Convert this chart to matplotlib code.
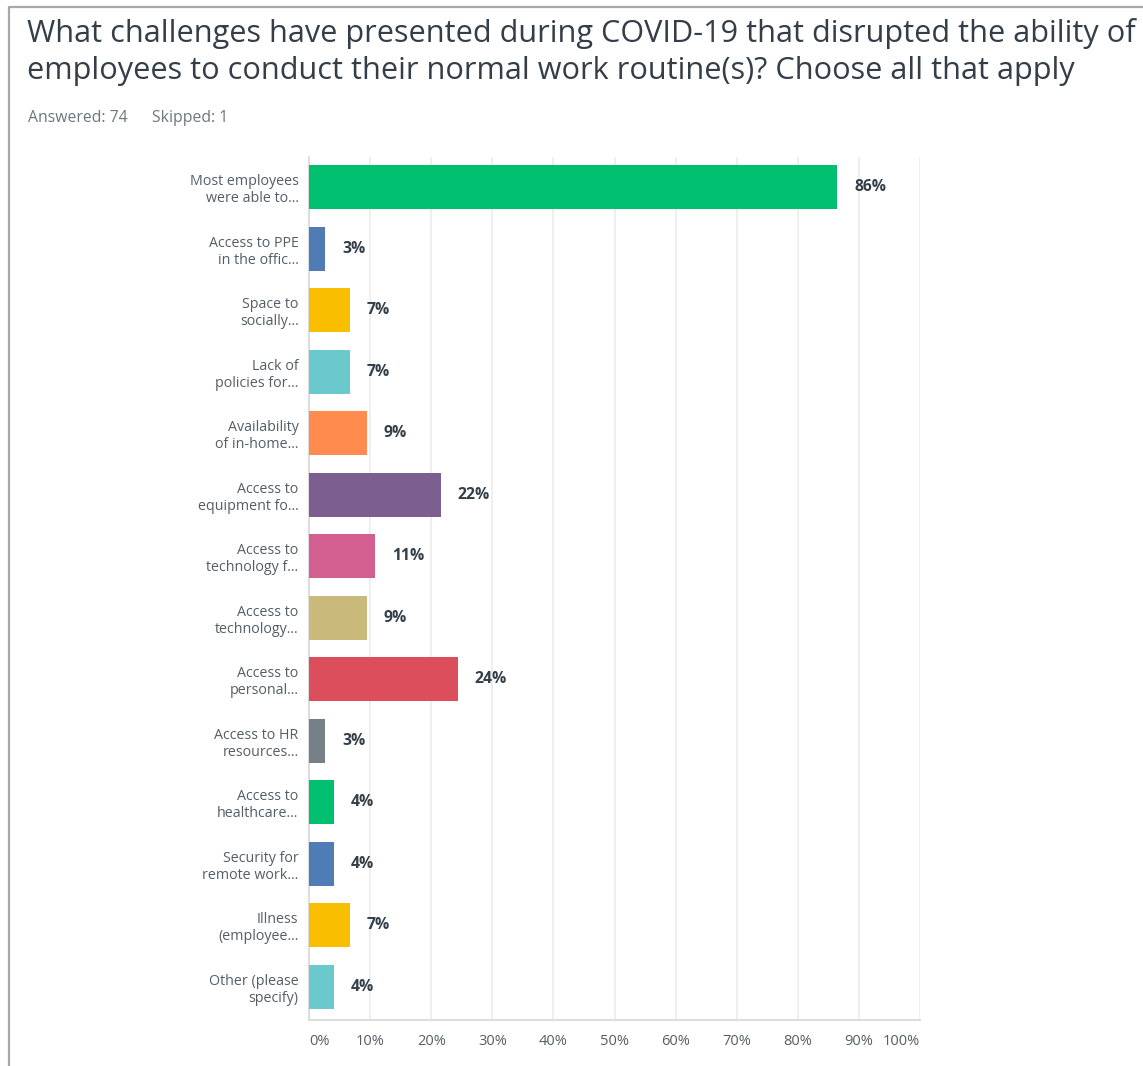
import matplotlib
matplotlib.use("Agg")
import matplotlib.pyplot as plt
from matplotlib.lines import Line2D

# Survey results (percent of respondents, 74 answered)
categories = [
    "Most employees\nwere able to...",
    "Access to PPE\nin the offic...",
    "Space to\nsocially...",
    "Lack of\npolicies for...",
    "Availability\nof in-home...",
    "Access to\nequipment fo...",
    "Access to\ntechnology f...",
    "Access to\ntechnology...",
    "Access to\npersonal...",
    "Access to HR\nresources...",
    "Access to\nhealthcare...",
    "Security for\nremote work...",
    "Illness\n(employee...",
    "Other (please\nspecify)",
]
percents = [86.49, 2.70, 6.76, 6.76, 9.46, 21.62, 10.81, 9.46, 24.32, 2.70, 4.05, 4.05, 6.76, 4.05]
colors = ["#00BF6F", "#507CB6", "#F9BE00", "#6BC8CD", "#FF8B4F", "#7D5E90", "#D25F90",
          "#C9B97A", "#DC4E5C", "#768087", "#00BF6F", "#507CB6", "#F9BE00", "#6BC8CD"]
tick_values = [0, 10, 20, 30, 40, 50, 60, 70, 80, 90, 100]
tick_labels = ["0%", "10%", "20%", "30%", "40%", "50%", "60%", "70%", "80%", "90%", "100%"]

title = ("What challenges have presented during COVID-19 that disrupted the ability of\n"
         "employees to conduct their normal work routine(s)? Choose all that apply")
subtitle_answered = "Answered: 74"
subtitle_skipped = "Skipped: 1"

plt.rcParams["font.family"] = ["Open Sans", "DejaVu Sans"]

W, H = 1143, 1066
fig = plt.figure(figsize=(W / 100, H / 100), dpi=100)
fig.patch.set_facecolor("white")

ax = fig.add_axes([309 / W, 1 - 1020 / H, (920 - 309) / W, (1020 - 157) / H])

y = list(range(len(categories)))
ax.barh(y, percents, height=0.715, color=colors, zorder=3)

for yi, p in zip(y, percents):
    ax.annotate(f"{round(p)}%", xy=(p, yi), xytext=(12, 0), textcoords="offset points",
                ha="left", va="center", fontsize=11.3, fontweight="bold", color="#333e48")

ax.set_xlim(0, 100)
ax.set_ylim(len(categories) - 1 + 0.54, -0.49)
ax.set_yticks(y)
ax.set_yticklabels(categories, fontsize=10.3, color="#545e66", linespacing=1.2)
ax.set_xticks(tick_values)
ax.set_xticklabels(tick_labels, fontsize=10.5, color="#545e66")
xt = ax.get_xticklabels()
xt[0].set_horizontalalignment("left")
xt[-1].set_horizontalalignment("right")
ax.tick_params(axis="y", length=0, pad=7.5)
ax.tick_params(axis="x", length=0, pad=10)

ax.grid(axis="x", color="#ececec", linewidth=1.2, zorder=0)
for side in ("top", "right"):
    ax.spines[side].set_visible(False)
for side in ("left", "bottom"):
    ax.spines[side].set_color("#dddddd")
    ax.spines[side].set_linewidth(1.5)

fig.text(27 / W, 1 - 18 / H, title, fontsize=22.1, color="#333e48",
         ha="left", va="top", linespacing=1.3)
fig.text(28 / W, 1 - 122 / H, subtitle_answered, fontsize=11.3, color="#6b787f", ha="left", va="baseline")
fig.text(152 / W, 1 - 122 / H, subtitle_skipped, fontsize=11.3, color="#6b787f", ha="left", va="baseline")

# panel border along the top and left edge
fig.add_artist(Line2D([9 / W, 9 / W, 1.0], [0.0, 1 - 7 / H, 1 - 7 / H],
                      transform=fig.transFigure, color="#a8a8a8", linewidth=1.6))

fig.savefig("out.png", dpi=100)
